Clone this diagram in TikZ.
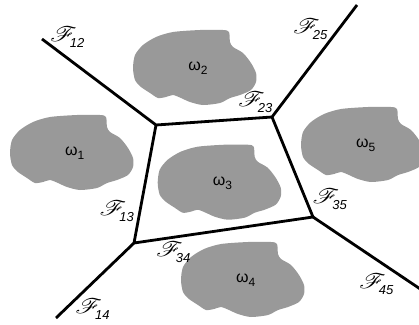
\documentclass[tikz,border=0pt]{standalone}
\usepackage{fontspec}
\setmainfont{Liberation Sans}
\usepackage{mathrsfs}
\usepackage{graphicx}
\definecolor{blobgray}{RGB}{153,153,153}
\tikzset{
  wall/.style={line width=2.8pt},
  blob/.pic={\fill[blobgray] plot[smooth cycle, tension=0.45] coordinates {
    (-62,-12) (-54,-22) (-41,-30) (-24,-35) (3,-37) (26,-37) (32,-35) (33,-25)
    (36,-20) (46,-14) (54,-4) (59,6) (59,15) (54,23) (43,28) (33,31) (23,36)
    (6,38) (-7,35) (-16,31) (-24,28) (-31,30) (-39,31) (-47,26) (-56,20)
    (-62,13) (-64,1)};},
  omlabel/.style={anchor=base, inner sep=0pt, font=\fontsize{16}{16}\selectfont},
  flabel/.style={inner sep=0pt}
}
\newcommand{\omg}[1]{ω\raisebox{-4pt}{\fontsize{12}{12}\selectfont #1}}
\newcommand{\scrF}[1]{\scalebox{2.6}[2.1]{$\mathscr{F}$}\kern-7pt\raisebox{-6pt}{\fontsize{13}{13}\selectfont\itshape #1}}
\begin{document}
\begin{tikzpicture}[x=1pt,y=-1pt]
\useasboundingbox (0,0) rectangle (419,324);
% blobs
\pic at (74,152) {blob};
\pic at (197,67) {blob};
\pic at (221.7,181.7) {blob};
\pic at (245,279) {blob};
\pic at (365,144) {blob};
\node[omlabel] (w1) at (74.7,155.5) {\omg{1}};
\node[omlabel] (w2) at (198,70.5) {\omg{2}};
\node[omlabel] (w3) at (222.4,185.2) {\omg{3}};
\node[omlabel] (w4) at (245.7,282.5) {\omg{4}};
\node[omlabel] (w5) at (365.7,147.5) {\omg{5}};
% vertices
\coordinate (A) at (156,125);
\coordinate (B) at (272,117);
\coordinate (C) at (134,243);
\coordinate (D) at (313,217);
\coordinate (E12) at (42,39);
\coordinate (E25) at (357,5);
\coordinate (E14) at (56,318);
\coordinate (E45) at (421,289.5);
\draw[wall] (E12) -- (A) -- (B) -- (E25);
\draw[wall] (A) -- (C) -- (D) -- (B);
\draw[wall] (C) -- (E14);
\draw[wall] (D) -- (E45);
% labels
\node[flabel] (f12) at (67.2,37) {\scrF{12}};
\node[flabel] (f25) at (310.3,29.5) {\scrF{25}};
\node[flabel] (f23) at (255.2,102.5) {\scrF{23}};
\node[flabel] (f13) at (116.7,211) {\scrF{13}};
\node[flabel] (f34) at (173.3,252.5) {\scrF{34}};
\node[flabel] (f14) at (92.5,309) {\scrF{14}};
\node[flabel] (f35) at (329.8,199) {\scrF{35}};
\node[flabel] (f45) at (376.2,284) {\scrF{45}};
\end{tikzpicture}
\end{document}
